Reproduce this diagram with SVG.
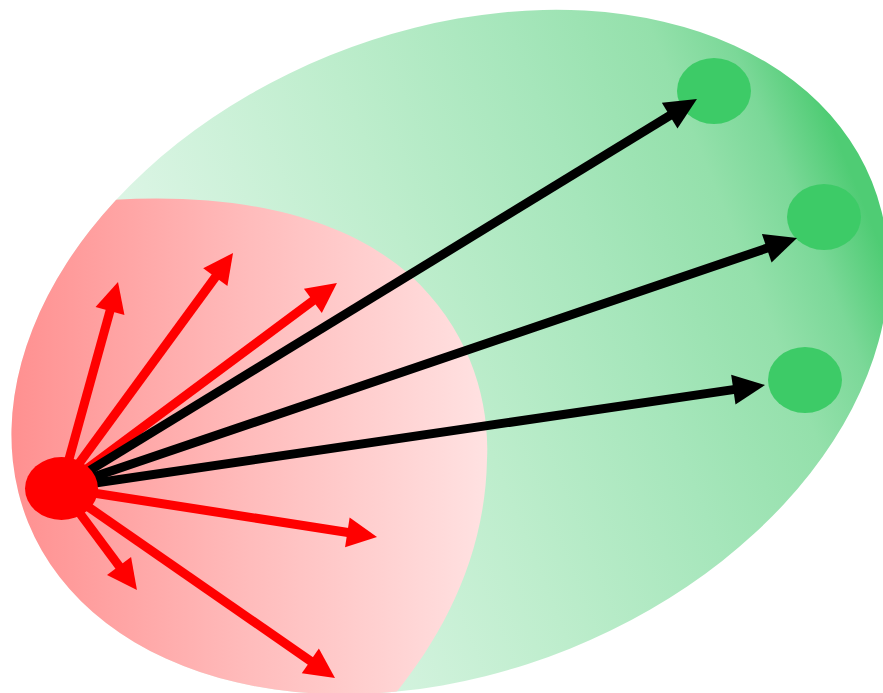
<svg xmlns="http://www.w3.org/2000/svg" width="883" height="693" viewBox="0 0 883 693">
  <defs>
    <linearGradient id="gGreen" gradientUnits="userSpaceOnUse" x1="11" y1="0" x2="889" y2="0">
      <stop offset="0" stop-color="#f2fbf5"/>
      <stop offset="0.25" stop-color="#d8f4e2"/>
      <stop offset="0.5" stop-color="#bdedcc"/>
      <stop offset="0.7" stop-color="#a6e6bb"/>
      <stop offset="0.85" stop-color="#94e0ab"/>
      <stop offset="0.93" stop-color="#7bd898"/>
      <stop offset="1" stop-color="#4fcc74"/>
    </linearGradient>
    <linearGradient id="gRed" gradientUnits="userSpaceOnUse" x1="11" y1="0" x2="490" y2="0">
      <stop offset="0" stop-color="#ff9090"/>
      <stop offset="0.5" stop-color="#ffbcbc"/>
      <stop offset="1" stop-color="#ffe2e2"/>
    </linearGradient>
    <clipPath id="clipEll">
      <ellipse cx="450" cy="352" rx="455" ry="320" transform="rotate(-22 450 352)"/>
    </clipPath>
    <marker id="mRed" markerUnits="userSpaceOnUse" markerWidth="34" markerHeight="34" refX="12" refY="15" orient="auto" overflow="visible">
      <path d="M0,0 L30,15 L0,30 Z" fill="#ff0000"/>
    </marker>
    <marker id="mBlack" markerUnits="userSpaceOnUse" markerWidth="34" markerHeight="34" refX="12" refY="15" orient="auto" overflow="visible">
      <path d="M0,0 L32,15 L0,30 Z" fill="#000000"/>
    </marker>
  </defs>
  <style>
    .red { stroke: #ff0000; stroke-width: 9; fill: none; marker-end: url(#mRed); }
    .blk { stroke: #000000; stroke-width: 9; fill: none; marker-end: url(#mBlack); }
    .gdot { fill: #3dcb67; }
  </style>

  <g id="region-green">
    <ellipse cx="450" cy="352" rx="455" ry="320" transform="rotate(-22 450 352)" fill="url(#gGreen)"/>
  </g>
  <g id="region-red" clip-path="url(#clipEll)">
    <path d="M40,207 C200,185 330,205 410,275 C470,330 490,400 487,460 C485,560 440,640 390,700 L0,700 L0,207 Z" fill="url(#gRed)"/>
  </g>

  <g id="node-target1"><ellipse class="gdot" cx="714" cy="91" rx="37" ry="33"/></g>
  <g id="node-target2"><ellipse class="gdot" cx="824" cy="217" rx="37" ry="33"/></g>
  <g id="node-target3"><ellipse class="gdot" cx="805" cy="380" rx="37" ry="33"/></g>

  <g id="connectors">
    <line class="red" x1="61" y1="488" x2="113.2" y2="299.4"/>
    <line class="red" x1="61" y1="488" x2="222.4" y2="267.5"/>
    <line class="red" x1="61" y1="488" x2="322.5" y2="293.7"/>
    <line class="red" x1="61" y1="488" x2="359.2" y2="534.2"/>
    <line class="red" x1="61" y1="488" x2="126.2" y2="575.6"/>
    <line class="red" x1="61" y1="488" x2="320.2" y2="667.7"/>
    <line class="blk" x1="61" y1="488" x2="679.9" y2="109.4"/>
    <line class="blk" x1="61" y1="488" x2="778.1" y2="244.4"/>
    <line class="blk" x1="61" y1="488" x2="745.2" y2="387.9"/>
  </g>

  <g id="node-source"><ellipse cx="61.5" cy="488.5" rx="36.5" ry="31.5" fill="#ff0000"/></g>
</svg>
